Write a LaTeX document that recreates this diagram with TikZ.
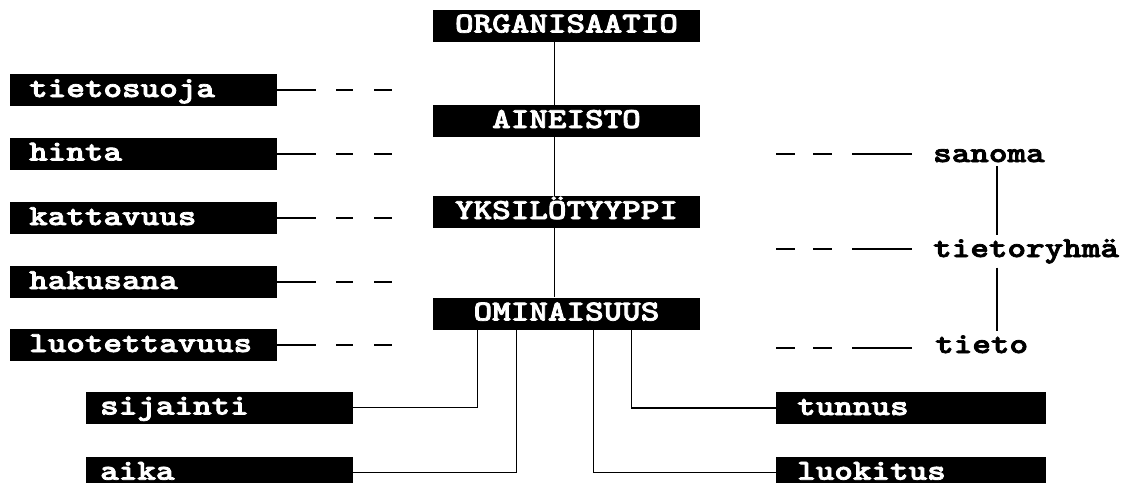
\documentclass[tikz,border=0pt]{standalone}
\usepackage{fontspec}
\usepackage{graphicx}
\newfontfamily\slabfont{lmmonolt10-bold.otf}[FakeBold=2.5]
\newcommand{\widetxt}[1]{\scalebox{1.22}[1]{#1}}
\begin{document}
\begin{tikzpicture}[x=1pt,y=-1pt,
  lbl/.style={fill=black,text=white,font=\slabfont\fontsize{29}{29}\selectfont,
    text height=20pt,text depth=6pt,inner ysep=3pt,anchor=west,align=left},
  lefttag/.style={lbl,inner xsep=19pt,text width=229pt},
  midtag/.style={lbl,inner xsep=14pt,text width=239pt},
  righttag/.style={lbl,inner xsep=21pt,text width=228pt},
  edgetag/.style={text depth=0.5pt,anchor=north west},
  ctag/.style={lbl,anchor=center,inner xsep=0pt,text width=267pt,align=center},
  plain/.style={font=\slabfont\fontsize{29}{29}\selectfont,text=black,
    inner xsep=0pt,inner ysep=4pt,anchor=base west},
  dashleft/.style={line width=2pt,dash pattern=on 39pt off 20pt on 17pt off 21pt on 18pt off 200pt},
  dashright/.style={line width=2pt,dash pattern=on 19pt off 18pt on 19pt off 20pt on 60pt off 200pt},
  tree/.style={line width=1pt},
  elbow/.style={line width=1.4pt}]
\useasboundingbox (0,0) rectangle (1124,483);
\clip (0,0) rectangle (1124,483);

% central hierarchy
\node[ctag] (org) at (566.5,25.5) {\widetxt{ORGANISAATIO}};
\node[ctag] (ain) at (566.5,121) {\widetxt{AINEISTO}};
\node[ctag] (yks) at (566.5,212) {\widetxt{YKSILÖTYYPPI}};
\node[ctag] (omin) at (566.5,313.5) {\widetxt{OMINAISUUS}};
\draw[tree] ([xshift=-12pt]org.south) -- ([xshift=-12pt]ain.north);
\draw[tree] ([xshift=-12pt]ain.south) -- ([xshift=-12pt]yks.north);
\draw[tree] ([xshift=-12pt]yks.south) -- ([xshift=-12pt]omin.north);

% left column
\node[lefttag] (tietosuoja) at (10,90) {\widetxt{tietosuoja}};
\node[lefttag] (hinta) at (10,153.5) {\widetxt{hinta}};
\node[lefttag] (kattavuus) at (10,218) {\widetxt{kattavuus}};
\node[lefttag] (hakusana) at (10,282) {\widetxt{hakusana}};
\node[lefttag] (luotettavuus) at (10,345) {\widetxt{luotettavuus}};
\foreach \n in {tietosuoja,hinta,kattavuus,hakusana,luotettavuus}
  \draw[dashleft] (\n.east) -- ++(116,0);

% lower attributes
\node[midtag] (sijainti) at (86,407.5) {\widetxt{sijainti}};
\node[midtag,edgetag] (aika) at (86,456.5) {\widetxt{aika}};
\node[righttag] (tunnus) at (776,408) {\widetxt{tunnus}};
\node[righttag,edgetag] (luokitus) at (776,456.5) {\widetxt{luokitus}};
\draw[elbow] (sijainti.east) -| ([xshift=-89pt]omin.south);
\draw[elbow] ([yshift=-2.5pt]aika.east) -| ([xshift=-50pt]omin.south);
\draw[elbow] ([yshift=-2.5pt]luokitus.west) -| ([xshift=27pt]omin.south);
\draw[elbow] (tunnus.west) -| ([xshift=65pt]omin.south);

% right hierarchy
\node[plain] (sanoma) at (933,162) {\widetxt{sanoma}};
\node[plain] (tryhma) at (933,257) {\widetxt{tietoryhmä}};
\node[plain] (tieto) at (935,353) {\widetxt{tieto}};
\coordinate (rs1) at (776,154);
\coordinate (rs2) at (776,249);
\coordinate (rs3) at (776,348);
\coordinate (vx) at (997,0);
\draw[dashright] (rs1) -- (rs1 -| sanoma.west);
\draw[dashright] (rs2) -- (rs2 -| tryhma.west);
\draw[dashright] (rs3) -- (rs3 -| tieto.west);
\draw[elbow] (sanoma.south -| vx) -- (tryhma.north -| vx);
\draw[elbow] (tryhma.south -| vx) -- (tieto.north -| vx);
\end{tikzpicture}
\end{document}
